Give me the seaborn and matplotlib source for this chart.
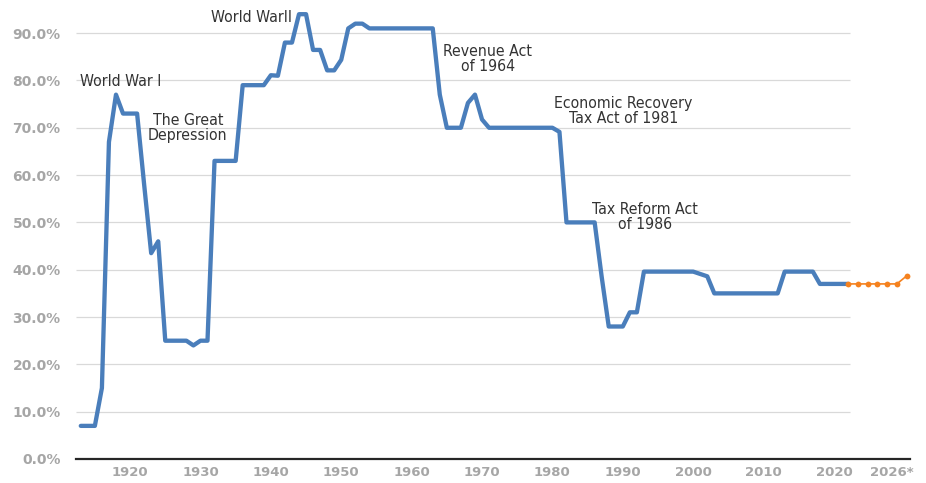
import numpy as np
import matplotlib
matplotlib.use("Agg")
import matplotlib.pyplot as plt
import matplotlib.transforms as mtransforms
import seaborn as sns

# top marginal income tax rate (%)
years = list(range(1913, 2023))
top_rate = [7, 7, 7, 15, 67, 77, 73, 73, 73, 58,                          # 1913-1922
            43.5, 46, 25, 25, 25, 25, 24, 25, 25, 63,                     # 1923-1932
            63, 63, 63, 79, 79, 79, 79, 81.1, 81, 88,                     # 1933-1942
            88, 94, 94, 86.45, 86.45, 82.13, 82.13, 84.36, 91, 92,        # 1943-1952
            92, 91, 91, 91, 91, 91, 91, 91, 91, 91,                       # 1953-1962
            91, 77, 70, 70, 70, 75.25, 77, 71.75, 70, 70,                 # 1963-1972
            70, 70, 70, 70, 70, 70, 70, 70, 69.13, 50,                    # 1973-1982
            50, 50, 50, 50, 38.5, 28, 28, 28, 31, 31,                     # 1983-1992
            39.6, 39.6, 39.6, 39.6, 39.6, 39.6, 39.6, 39.6, 39.1, 38.6,   # 1993-2002
            35, 35, 35, 35, 35, 35, 35, 35, 35, 35,                       # 2003-2012
            39.6, 39.6, 39.6, 39.6, 39.6, 37, 37, 37, 37, 37]             # 2013-2022

# projection (secondary axis in the original)
proj_years = [2020, 2021, 2022, 2023, 2024, 2025, 2026]
proj_rate = [37, 37, 37, 37, 37, 37, 38.7]

year_ticks = [1920, 1930, 1940, 1950, 1960, 1970, 1980, 1990, 2000, 2010, 2020]
proj_tick_label = "2026*"
pct_ticks = [0, 10, 20, 30, 40, 50, 60, 70, 80, 90]

events = ["World War I", "The Great\nDepression", "World WarII", "Revenue Act\nof 1964",
          "Economic Recovery\nTax Act of 1981", "Tax Reform Act\nof 1986"]
event_pos = [(1918.7, 79.7), (1928.2, 70.0), (1937.3, 93.4), (1970.8, 84.6),
             (1990.1, 73.6), (1993.1, 51.2)]

sns.set_style("white")
plt.rcParams['font.family'] = ['DejaVu Sans']

BLUE = "#4A7EBB"
ORANGE = "#F5821F"
GREY_TXT = "#A6A6A6"

fig = plt.figure(figsize=(9.26, 4.83), dpi=100)
ax = fig.add_axes([76 / 926, 24 / 483, 834 / 926, 459 / 483])

x_left = 1912.32
ax.set_xlim(x_left, 2030.8)
ax.set_ylim(0, 97.0)

# gridlines stop where the historical series ends
ax.hlines(pct_ticks[1:], x_left, years[-1] + 0.3, color="#D9D9D9", lw=0.9, zorder=0)

sns.lineplot(x=years, y=top_rate, ax=ax, color=BLUE, lw=3.1, estimator=None,
             solid_joinstyle="round", solid_capstyle="round", zorder=3)

for sp in ["top", "right", "left"]:
    ax.spines[sp].set_visible(False)
ax.spines["bottom"].set_color("#262626")
ax.spines["bottom"].set_linewidth(1.6)

ax.set_yticks(pct_ticks)
ax.set_yticklabels([f"{v:.1f}%" for v in pct_ticks])
ax.set_xticks(year_ticks)
ax.set_xticklabels([str(y) for y in year_ticks])
ax.tick_params(axis="y", length=0, pad=11, labelsize=10, labelcolor=GREY_TXT)
ax.tick_params(axis="x", length=0, pad=5, labelsize=9.5, labelcolor=GREY_TXT)
for lab in ax.get_xticklabels() + ax.get_yticklabels():
    lab.set_fontweight("bold")
ax.set_xlabel("")
ax.set_ylabel("")

for txt, (xx, yy) in zip(events, event_pos):
    ax.text(xx, yy, txt, ha="center", va="center", multialignment="center",
            fontsize=11.3, color="#333333", linespacing=1.0,
            family=["Liberation Sans Narrow", "DejaVu Sans"], stretch="condensed")

# projection on a secondary x axis
ax2 = ax.twiny()
ax2.set_xlim(1941.06, 2026.34)
sns.lineplot(x=proj_years, y=proj_rate, ax=ax2, color=ORANGE, lw=1.2, estimator=None,
             marker="o", markersize=4.2, markeredgewidth=0, zorder=4)
for sp in ax2.spines.values():
    sp.set_visible(False)
ax2.set_xticks([proj_years[-1]])
ax2.set_xticklabels([proj_tick_label])
ax2.tick_params(axis="x", top=False, bottom=False, labeltop=False, labelbottom=True,
                length=0, pad=5, labelsize=9.5, labelcolor=GREY_TXT)
for lab in ax2.get_xticklabels():
    lab.set_fontweight("bold")
    lab.set_transform(lab.get_transform() + mtransforms.ScaledTranslation(-15 / 100, 0, fig.dpi_scale_trans))
ax2.set_xlabel("")
ax2.set_ylabel("")
ax2.grid(False)

fig.savefig("out.png", dpi=100)
